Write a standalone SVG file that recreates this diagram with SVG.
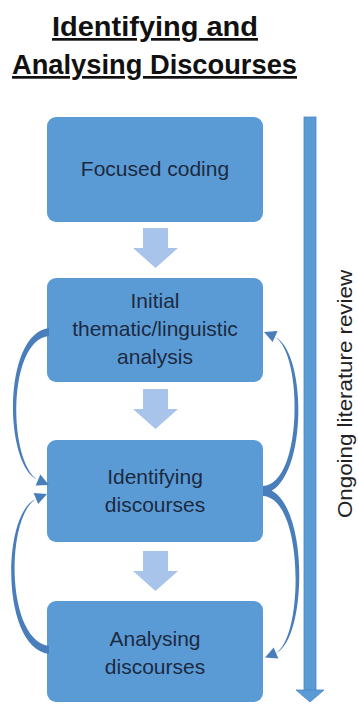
<svg xmlns="http://www.w3.org/2000/svg" width="358" height="704" viewBox="0 0 358 704">
<style>
.title{font-family:"Liberation Sans",Arial,sans-serif;font-weight:bold;font-size:27px;fill:#111;text-decoration:underline;}
.box{fill:#5B9BD5;}
.lbl{font-family:"Liberation Sans",Arial,sans-serif;font-size:21px;fill:#1B2A41;text-anchor:middle;}
.step{fill:#A9C4EA;}
.curve{fill:#4A7EBB;}
.side{font-family:"Liberation Sans",Arial,sans-serif;font-size:20px;fill:#222;text-anchor:middle;}
</style>
<rect width="358" height="704" fill="#fff"/>
<g id="title">
<text class="title" x="52" y="36" textLength="206" lengthAdjust="spacingAndGlyphs">Identifying and</text>
<text class="title" x="12" y="74" textLength="285" lengthAdjust="spacingAndGlyphs">Analysing Discourses</text>
</g>
<g id="node-focused">
<rect class="box" x="47" y="117" width="216" height="105" rx="9"/>
<text class="lbl" x="155" y="176">Focused coding</text>
</g>
<g id="node-initial">
<rect class="box" x="47" y="278" width="216" height="104" rx="9"/>
<text class="lbl" x="155" y="308">Initial</text>
<text class="lbl" x="155" y="336">thematic/linguistic</text>
<text class="lbl" x="155" y="364">analysis</text>
</g>
<g id="node-identifying">
<rect class="box" x="47" y="440" width="216" height="102" rx="9"/>
<text class="lbl" x="155" y="484">Identifying</text>
<text class="lbl" x="155" y="512">discourses</text>
</g>
<g id="node-analysing">
<rect class="box" x="47" y="601" width="216" height="101" rx="9"/>
<text class="lbl" x="155" y="646">Analysing</text>
<text class="lbl" x="155" y="674">discourses</text>
</g>
<g id="connectors">
<polygon class="step" points="143,228 168,228 168,248 178,248 155.5,268 133,248 143,248"/>
<polygon class="step" points="143,389 168,389 168,409 178,409 155.5,429 133,409 143,409"/>
<polygon class="step" points="143,551 168,551 168,571 178,571 155.5,591 133,571 143,571"/>
<path class="curve" d="M49,328 C2,334 4,466 38,480 C8,462 7,340 49,336 Z"/>
<polygon class="curve" points="49,485 35.7,485.5 40.3,474.5"/>
<path class="curve" d="M49,654 C0,648 2,512 36,499 C6,516 5,640 49,646 Z"/>
<polygon class="curve" points="47,494 38.2,504.1 33.6,493.1"/>
<path class="curve" d="M263,494 C308,488 308,352 275,337 C303,354 303,484 263,486 Z"/>
<polygon class="curve" points="264,332 277.6,331.1 272.6,342.1"/>
<path class="curve" d="M263,488 C310,492 308,640 276,653 C304,636 304,498 263,496 Z"/>
<polygon class="curve" points="265,657.5 278.3,658.6 273.7,647.4"/>
<g id="review-arrow">
<rect x="304" y="117" width="12" height="575" fill="#5B9BD5" stroke="#4A86C5" stroke-width="0.8"/>
<polygon points="296,690 324,690 310,702" fill="#5B9BD5" stroke="#4A86C5" stroke-width="0.8"/>
</g>
</g>
<g id="side-label">
<text class="side" transform="translate(352,394) rotate(-90)" textLength="248" lengthAdjust="spacingAndGlyphs">Ongoing literature review</text>
</g>
</svg>
